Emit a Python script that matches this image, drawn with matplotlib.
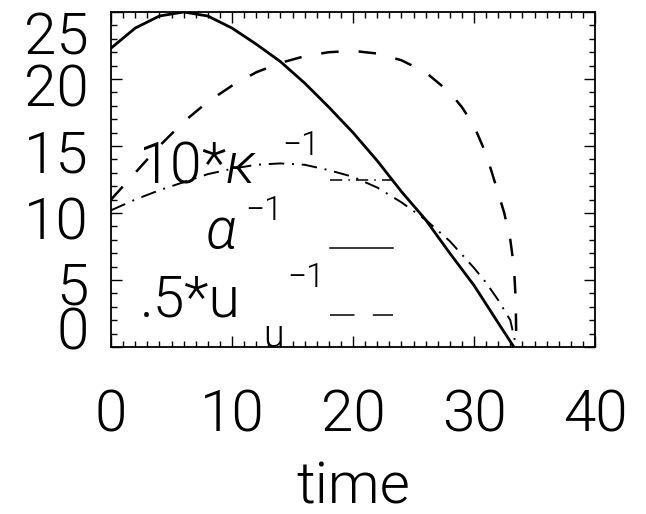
import numpy as np
import matplotlib
matplotlib.use("Agg")
import matplotlib.pyplot as plt
from matplotlib import font_manager as fm
from matplotlib.transforms import ScaledTranslation

# thin strokes look closer to the IDL vector font
fam = 'Liberation Sans'
wt = 'normal'
for name in ['Roboto', 'Lato', 'Open Sans', 'Noto Sans', 'Inter']:
    ws = sorted(f.weight for f in fm.fontManager.ttflist
                if f.name == name and f.style == 'normal'
                and isinstance(f.weight, int) and f.weight <= 300)
    if ws:
        fam, wt = name, ws[-1]
        break

plt.rcParams['font.family'] = [fam, 'DejaVu Sans']
plt.rcParams['font.weight'] = wt
plt.rcParams['axes.labelweight'] = wt
plt.rcParams['mathtext.fontset'] = 'custom'
plt.rcParams['mathtext.rm'] = fam
plt.rcParams['mathtext.it'] = fam + ':italic'

# values
t_alpha = [0, 2, 4, 6, 8, 10, 12, 14, 16, 18, 20, 22, 24, 26, 28, 30, 32, 33.3]
alpha_inv = [22.3, 23.8, 24.7, 25.0, 24.7, 23.8, 22.6, 21.3, 19.7, 17.9,
             16.0, 13.9, 11.6, 9.5, 7.0, 4.6, 1.8, 0.0]

t_u = [0, 2, 4, 6, 8, 10, 12, 14, 16, 18, 20, 22, 24, 26, 28, 29, 30, 31,
       32, 32.5, 33, 33.3, 33.45, 33.5]
u_half_inv = [11.0, 13.0, 15.0, 16.8, 18.3, 19.5, 20.5, 21.2, 21.7, 22.0,
              22.1, 21.9, 21.4, 20.5, 19.0, 17.9, 16.5, 14.4, 11.5, 10.0,
              8.0, 6.0, 3.5, 0.0]

t_kappa = [0, 2, 4, 6, 8, 10, 12, 14, 16, 18, 20, 22, 24, 26, 28, 30, 31,
           32, 33, 33.5]
kappa10_inv = [10.2, 11.0, 11.7, 12.3, 12.9, 13.3, 13.6, 13.7, 13.6, 13.2,
               12.7, 11.9, 10.8, 9.5, 7.9, 5.9, 4.8, 3.5, 2.0, 0.0]

xticks = [0, 10, 20, 30, 40]
yticks = [0, 5, 10, 15, 20, 25]

fig = plt.figure(figsize=(6.46, 5.14), dpi=100)
ax = fig.add_axes([111/646, 1 - 347/514, 484/646, 335/514])

ax.plot(t_alpha, alpha_inv, 'k-', lw=2)
ax.plot(t_u, u_half_inv, color='k', lw=1.8, ls=(0, (7, 8)))
ax.plot(t_kappa, kappa10_inv, color='k', lw=1.4, ls=(0, (8, 4, 1, 4)))

ax.set_xlim(0, 40)
ax.set_ylim(0, 25)
ax.set_xticks(xticks)
ax.set_yticks(yticks)
ax.set_xticks(np.arange(0, 41, 1), minor=True)
ax.set_yticks(np.arange(0, 26, 1), minor=True)
ax.tick_params(which='both', direction='in', top=True, right=True,
               labelsize=42, width=1)
ax.tick_params(which='major', length=8)
ax.tick_params(which='minor', length=4)
ax.tick_params(axis='x', pad=30)
ax.tick_params(axis='y', pad=16)
for s in ax.spines.values():
    s.set_linewidth(1.3)

# IDL-ish placement of the y labels
shifts = [-19, 3, 5, 5, 6, 21]
for lab, d in zip(ax.get_yticklabels(), shifts):
    lab.set_transform(lab.get_transform() + ScaledTranslation(0, -d/100, fig.dpi_scale_trans))

ax.set_xlabel('time', fontsize=42, labelpad=12)

# in-plot legend
ax.text(0.056, 0.49, r'10*$\kappa$', transform=ax.transAxes, fontsize=41)
ax.text(0.353, 0.573, '\u22121', transform=ax.transAxes, fontsize=24)
ax.text(0.194, 0.296, r'$\alpha$', transform=ax.transAxes, fontsize=41)
ax.text(0.277, 0.379, '\u22121', transform=ax.transAxes, fontsize=24)
ax.text(0.06, 0.09, '.5*u', transform=ax.transAxes, fontsize=41)
ax.text(0.364, 0.179, '\u22121', transform=ax.transAxes, fontsize=24)
ax.text(0.314, 0.0, 'u', transform=ax.transAxes, fontsize=27)

lx = [0.453, 0.583]
ax.plot(lx, [0.498, 0.498], color='k', lw=1.1, ls=(0, (8, 4, 1, 4)), transform=ax.transAxes)
ax.plot(lx, [0.296, 0.296], color='k', lw=1.1, transform=ax.transAxes)
ax.plot(lx, [0.095, 0.095], color='k', lw=1.1, ls=(0, (16, 12)), transform=ax.transAxes)

fig.savefig('out.png', dpi=100)
